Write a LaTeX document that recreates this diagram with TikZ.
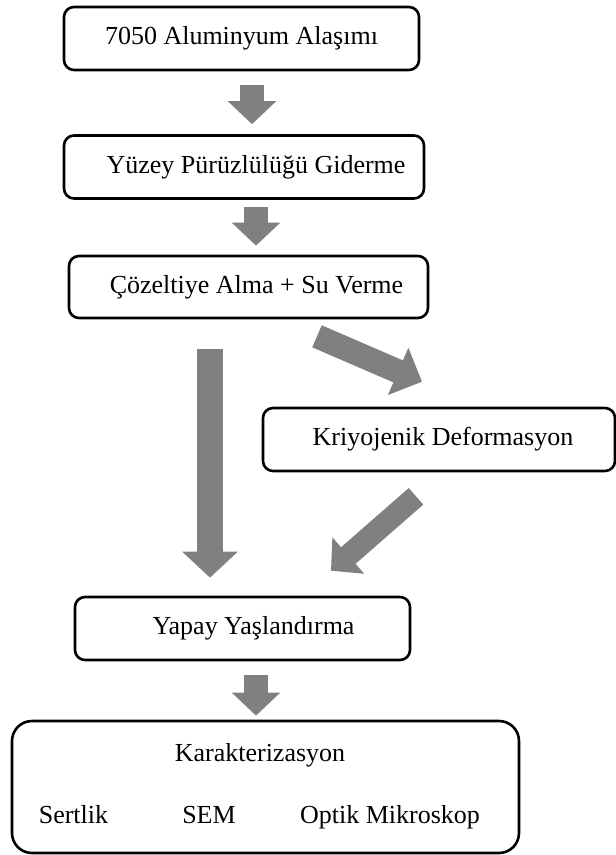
\documentclass[tikz,border=0pt]{standalone}
\usepackage{fontspec}
\setmainfont{Liberation Serif}
\usepackage{tikz}
\usetikzlibrary{calc,arrows.meta}

\definecolor{okgri}{RGB}{128,128,128}

\begin{document}
\begin{tikzpicture}[x=1pt,y=-1pt,
        kutu/.style={draw,line width=2.6pt,rounded corners=10pt,minimum height=63pt,inner sep=0pt},
        yazi/.style={font=\fontsize{26}{30}\selectfont},
        okbuyuk/.style={draw=okgri,line width=24pt,-{Triangle[width=47pt,length=23pt]}}]
        \useasboundingbox (0,0) rectangle (616,855);
        \node[kutu,yazi,minimum width=355pt] (alasim) at (241.5,38.5) {7050 Aluminyum Alaşımı};
        \node[kutu,yazi,minimum width=360pt] (puruz) at (244,167) {\hspace*{24pt}Yüzey Pürüzlülüğü Giderme};
        \node[kutu,yazi,minimum width=359pt,minimum height=62pt] (cozelti) at (248.5,287) {\hspace*{16pt}Çözeltiye Alma + Su Verme};
        \node[kutu,yazi,minimum width=352pt] (kriyo) at (439,439.5) {\hspace*{8pt}Kriyojenik Deformasyon};
        \node[kutu,yazi,minimum width=335pt] (yaslan) at (242.5,628.5) {\hspace*{22pt}Yapay Yaşlandırma};
        \node[kutu,rounded corners=20pt,minimum width=507pt,minimum height=132pt] (karakter) at (265.5,787) {};
        \node[yazi,anchor=base] (baslik) at (260,761) {Karakterizasyon};
        \foreach \x/\t/\n in {73.5/Sertlik/sertlik,209/SEM/sem,390/Optik Mikroskop/optik}
        \node[yazi,anchor=base] (\n) at (\x,823) {\t};
        \draw[okbuyuk] ($(alasim.south)+(10.5,14)$) -- ($(puruz.north)+(8,-10)$);
        \draw[okbuyuk] ($(puruz.south)+(12,7)$) -- ($(cozelti.north)+(7.5,-9)$);
        \draw[okbuyuk,line width=26pt,-{Triangle[width=54pt,length=26pt]}] ($(cozelti.south)+(-38.5,30)$) -- ($(yaslan.north)+(-32.5,-18)$);
        \draw[okbuyuk,-{Triangle[width=50pt,length=26pt]}] ($(cozelti.south)+(68.5,17)$) -- ($(kriyo.north)+(-17,-25)$);
        \draw[okbuyuk,line width=22pt] ($(kriyo.south)+(-23,24)$) -- ($(yaslan.north)+(88.5,-25)$);
        \draw[okbuyuk] ($(yaslan.south)+(13.5,14)$) -- ($(karakter.north)+(-9.5,-4)$);
    \end{tikzpicture}
\end{document}
